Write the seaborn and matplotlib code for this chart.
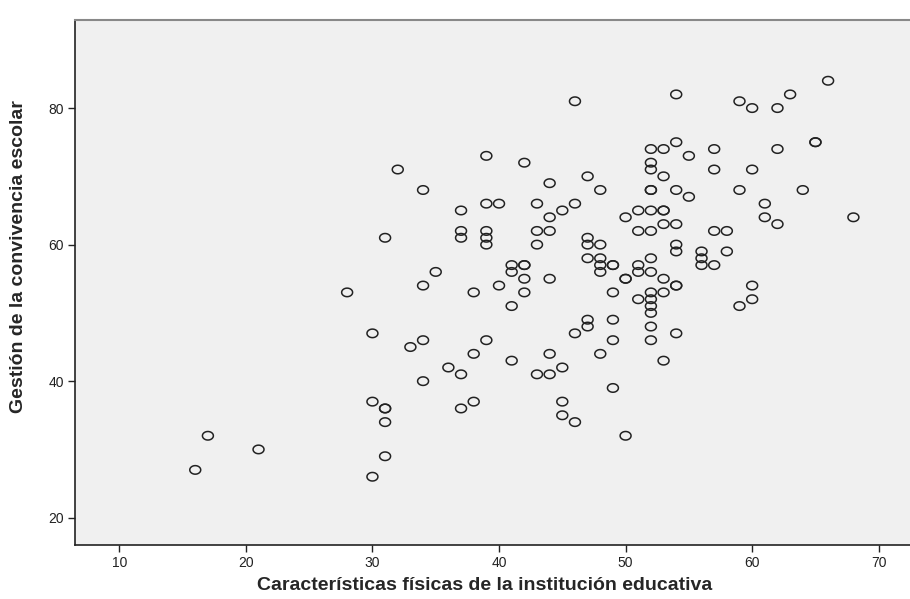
import numpy as np
import pandas as pd
import seaborn as sns
import matplotlib
matplotlib.use("Agg")
import matplotlib.pyplot as plt
from matplotlib.path import Path

# Data (one entry per respondent)
caracteristicas = [
    16, 17, 21, 28,
    30, 30, 30,
    31, 31, 31, 31, 31,
    32, 33,
    34, 34, 34, 34,
    35, 36,
    37, 37, 37, 37, 37,
    38, 38, 38,
    39, 39, 39, 39, 39, 39,
    40, 40,
    41, 41, 41, 41,
    42, 42, 42, 42, 42,
    43, 43, 43, 43,
    44, 44, 44, 44, 44, 44,
    45, 45, 45, 45,
    46, 46, 46, 46,
    47, 47, 47, 47, 47, 47,
    48, 48, 48, 48, 48, 48,
    49, 49, 49, 49, 49, 49,
    50, 50, 50, 50,
    51, 51, 51, 51, 51,
    52, 52, 52, 52, 52, 52, 52, 52, 52, 52, 52, 52, 52, 52, 52,
    53, 53, 53, 53, 53, 53, 53, 53,
    54, 54, 54, 54, 54, 54, 54, 54, 54,
    55, 55,
    56, 56, 56,
    57, 57, 57, 57,
    58, 58,
    59, 59, 59,
    60, 60, 60, 60,
    61, 61,
    62, 62, 62,
    63, 64, 65, 65, 66, 68,
]
gestion = [
    27, 32, 30, 53,
    47, 37, 26,
    61, 36, 36, 34, 29,
    71, 45,
    68, 54, 46, 40,
    56, 42,
    65, 62, 61, 41, 36,
    53, 44, 37,
    73, 66, 62, 61, 60, 46,
    66, 54,
    57, 56, 51, 43,
    72, 57, 57, 55, 53,
    66, 62, 60, 41,
    69, 64, 62, 55, 44, 41,
    65, 42, 37, 35,
    81, 66, 47, 34,
    70, 61, 60, 58, 49, 48,
    68, 60, 58, 57, 56, 44,
    57, 57, 53, 49, 46, 39,
    64, 55, 55, 32,
    65, 62, 57, 56, 52,
    74, 72, 71, 68, 68, 65, 62, 58, 56, 53, 52, 51, 50, 48, 46,
    74, 70, 65, 65, 63, 55, 53, 43,
    82, 75, 68, 63, 60, 59, 54, 54, 47,
    73, 67,
    59, 58, 57,
    74, 71, 62, 57,
    62, 59,
    81, 68, 51,
    80, 71, 54, 52,
    66, 64,
    80, 74, 63,
    82, 68, 75, 75, 84, 64,
]

x_ticks = [10, 20, 30, 40, 50, 60, 70]
y_ticks = [20, 40, 60, 80]

df = pd.DataFrame({"x": caracteristicas, "y": gestion})

sns.set_style("white")
plt.rcParams['font.family'] = ['Liberation Sans', 'DejaVu Sans']

fig = plt.figure(figsize=(9.10, 5.99), dpi=100)
ax = fig.add_axes([75 / 910, 1 - 545 / 599, 836 / 910, 525 / 599])
ax.set_facecolor("#f0f0f0")

# SPSS style open ellipse marker
t = np.linspace(0, 2 * np.pi, 60)
ellipse = Path(np.column_stack([np.cos(t), 0.78 * np.sin(t)]), closed=True)

sns.scatterplot(data=df, x="x", y="y", ax=ax, marker=ellipse, s=62,
                facecolors="none", edgecolor="#222222", linewidth=1.1)

ax.set_xlim(6.5, 72.55)
ax.set_ylim(16.0, 92.9)
ax.set_xticks(x_ticks)
ax.set_yticks(y_ticks)
ax.tick_params(axis="both", direction="out", length=5, width=1, color="#222222",
               labelsize=10, labelcolor="#222222", pad=3,
               bottom=True, left=True)

ax.set_xlabel("Características físicas de la institución educativa",
              fontsize=14, fontweight="bold")
ax.set_ylabel("Gestión de la convivencia escolar",
              fontsize=14, fontweight="bold")
# SPSS puts the titles a little off centre
ax.xaxis.set_label_coords(0.49, -0.06)
ax.yaxis.set_label_coords(-0.057, 0.549)

for side in ["left", "bottom"]:
    ax.spines[side].set_color("#222222")
    ax.spines[side].set_linewidth(1.2)
ax.spines["top"].set_color("#888888")
ax.spines["top"].set_linewidth(1.5)
ax.spines["right"].set_visible(False)

fig.savefig("out.png", dpi=100)
plt.close(fig)
